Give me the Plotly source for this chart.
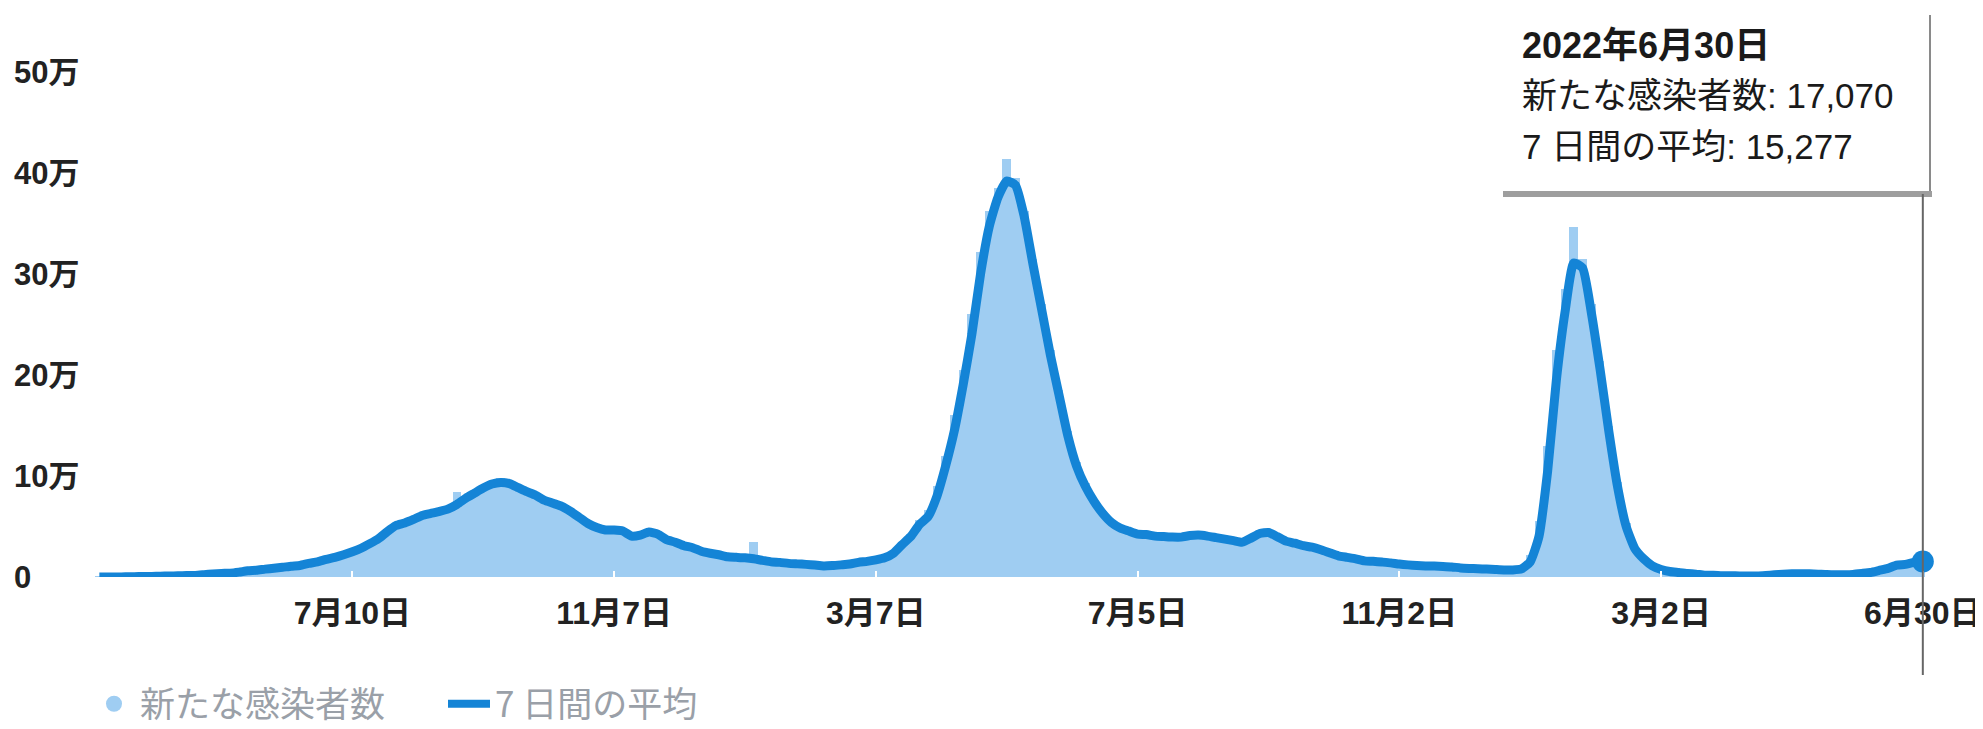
import plotly.graph_objects as go
import pandas as pd

# ---------------- data (India, thousands of cases) ----------------
start_date = "2020-03-16"   # first sample, one sample every 4 days
step_days = 4

daily_k = [
    0.02, 0.05, 0.1, 0.18, 0.35, 0.5, 0.65, 0.85, 1.05, 1.3,
    1.55, 1.8, 2.5, 3.1, 3.6, 4.0, 5.0, 6.3, 6.9, 8.0,
    9.0, 9.9, 11.0, 11.9, 14.0, 15.8, 18.2, 20.3, 23.0, 26.0,
    29.8, 34.5, 40.0, 47.0, 52.0, 54.5, 58.5, 62.0, 64.0, 66.0,
    68.5, 84.0, 79.5, 84.5, 89.5, 93.5, 97.9, 93.0, 89.0, 85.0,
    81.5, 76.5, 73.5, 70.5, 65.5, 59.5, 53.5, 49.5, 47.0, 47.5,
    46.0, 41.0, 42.5, 45.0, 43.0, 37.5, 35.0, 31.5, 29.5, 26.0,
    24.0, 22.5, 20.5, 20.0, 19.5, 35.0, 17.0, 15.5, 15.0, 14.0,
    13.5, 13.0, 12.3, 11.5, 11.8, 12.5, 13.5, 15.2, 16.3, 17.8,
    20.5, 25.5, 35.0, 43.0, 56.0, 66.0, 90.0, 120.0, 160.0, 205.0,
    260.0, 322.0, 362.0, 385.0, 414.0, 395.0, 362.0, 315.0, 270.0, 225.0,
    185.0, 145.0, 114.0, 93.0, 77.0, 65.0, 55.5, 49.5, 46.5, 43.5,
    43.0, 41.5, 41.0, 40.5, 40.5, 42.0, 42.5, 41.5, 40.0, 38.5,
    37.0, 35.5, 42.0, 46.0, 45.0, 41.0, 36.5, 34.5, 32.0, 30.5,
    28.0, 25.0, 22.0, 20.5, 19.0, 17.0, 16.5, 15.5, 14.8, 13.5,
    12.8, 12.2, 11.7, 11.5, 11.2, 10.6, 9.6, 9.0, 8.7, 8.3,
    7.9, 7.5, 7.5, 9.5, 22.0, 55.0, 130.0, 225.0, 285.0, 347.0,
    315.0, 270.0, 214.0, 150.0, 94.0, 53.0, 30.0, 19.5, 12.0, 8.2,
    6.0, 5.0, 3.9, 3.1, 2.0, 1.9, 1.5, 1.3, 1.2, 1.1,
    1.1, 1.8, 2.5, 3.0, 3.4, 3.5, 3.3, 3.0, 2.6, 2.5,
    2.5, 2.8, 3.9, 5.0, 7.0, 9.2, 12.5, 13.2, 15.2, 17.07,
]

avg_k = [
    0.02, 0.04, 0.08, 0.15, 0.3, 0.5, 0.6, 0.8, 1.0, 1.2,
    1.5, 1.6, 2.3, 3.0, 3.5, 3.8, 4.8, 6.1, 6.7, 7.8,
    8.7, 9.6, 10.7, 11.4, 13.5, 15.0, 17.5, 19.5, 22.0, 25.0,
    28.5, 33.0, 38.0, 45.0, 51.0, 53.5, 57.0, 61.0, 63.0, 65.0,
    67.5, 72.0, 78.0, 83.0, 88.0, 92.0, 93.6, 92.5, 88.5, 84.5,
    81.0, 76.0, 73.0, 70.0, 65.0, 59.0, 53.0, 49.0, 46.5, 46.5,
    45.5, 40.5, 41.5, 44.5, 42.5, 37.0, 34.5, 31.0, 29.0, 25.5,
    23.5, 22.0, 20.0, 19.5, 19.0, 18.0, 16.5, 15.0, 14.5, 13.5,
    13.0, 12.5, 11.8, 11.0, 11.3, 12.0, 12.8, 14.5, 15.5, 17.0,
    19.0, 23.5, 32.0, 40.0, 52.0, 60.0, 80.0, 110.0, 145.0, 190.0,
    240.0, 300.0, 347.0, 376.0, 392.0, 388.0, 357.0, 310.0, 265.0, 220.0,
    180.0, 140.0, 110.0, 90.0, 75.0, 63.0, 54.0, 48.5, 45.5, 42.5,
    42.0, 40.5, 40.0, 39.5, 39.5, 41.0, 41.5, 40.5, 39.0, 37.5,
    36.0, 34.5, 38.5, 43.0, 44.0, 40.0, 35.5, 33.5, 31.0, 29.5,
    27.0, 24.0, 21.0, 19.5, 18.0, 16.0, 15.5, 14.8, 14.0, 12.8,
    12.0, 11.5, 11.0, 10.8, 10.5, 10.0, 9.0, 8.5, 8.2, 7.8,
    7.4, 7.0, 7.0, 8.0, 15.0, 40.0, 105.0, 195.0, 263.0, 311.0,
    306.0, 262.0, 206.0, 145.0, 90.0, 50.0, 28.0, 18.0, 11.0, 7.5,
    5.5, 4.5, 3.5, 2.8, 1.8, 1.7, 1.3, 1.2, 1.1, 1.0,
    1.0, 1.5, 2.2, 2.8, 3.2, 3.3, 3.1, 2.8, 2.4, 2.3,
    2.3, 2.6, 3.5, 4.5, 6.5, 8.5, 11.8, 12.5, 14.5, 15.277,
]

tick_dates = ["2020-07-10", "2020-11-07", "2021-03-07", "2021-07-05",
              "2021-11-02", "2022-03-02", "2022-06-30"]
tick_labels = ["7月10日", "11月7日", "3月7日", "7月5日", "11月2日", "3月2日", "6月30日"]

y_tick_vals = [0, 100000, 200000, 300000, 400000, 500000]
y_tick_labels = ["0", "10万", "20万", "30万", "40万", "50万"]

series_names = ["新たな感染者数", "7 日間の平均"]
tooltip_date = "2022年6月30日"

# ---------------- build ----------------
dates = pd.date_range(start_date, periods=len(daily_k), freq=f"{step_days}D")
daily = [v * 1000 for v in daily_k]
avg = [v * 1000 for v in avg_k]

BAR_COLOR = "#9fcdf2"
LINE_COLOR = "#1484d6"
FONT = "Liberation Sans, Noto Sans CJK JP, sans-serif"
CJK = "Noto Sans CJK JP, Liberation Sans, sans-serif"

fig = go.Figure()
fig.add_trace(go.Bar(
    x=dates, y=daily, width=step_days * 86400000,
    marker=dict(color=BAR_COLOR, line=dict(width=0)),
    showlegend=False, hoverinfo="skip"))
fig.add_trace(go.Scatter(
    x=dates, y=avg, mode="lines",
    line=dict(color=LINE_COLOR, width=9, shape="spline", smoothing=0.5),
    showlegend=False, cliponaxis=False, hoverinfo="skip"))
fig.add_trace(go.Scatter(
    x=[dates[-1]], y=[avg[-1]], mode="markers",
    marker=dict(color=LINE_COLOR, size=22),
    showlegend=False, cliponaxis=False, hoverinfo="skip"))
# legend entries
fig.add_trace(go.Scatter(
    x=[None], y=[None], mode="markers", name=series_names[0],
    marker=dict(color=BAR_COLOR, size=24)))
fig.add_trace(go.Scatter(
    x=[None], y=[None], mode="lines", name=series_names[1],
    line=dict(color=LINE_COLOR, width=8)))

# the page body adds an 8px offset; figure is sized so the screen matches
OFF = 8
W, H = 1983 - OFF, 729 - OFF
L, R, T, B = 2, 58, 64, 152
pw = W - L - R
ph = H - T - B


def px_x(screen_x):
    return (screen_x - OFF - L) / pw


def px_y(screen_y):
    return (H - B - (screen_y - OFF)) / ph


fig.update_layout(
    width=W, height=H,
    margin=dict(l=L, r=R, t=T, b=B, pad=0, autoexpand=False),
    paper_bgcolor="white", plot_bgcolor="white",
    bargap=0,
    xaxis=dict(
        domain=[px_x(95), 1],
        range=["2020-03-14", "2022-07-01"],
        tickvals=tick_dates, ticktext=tick_labels,
        ticks="inside", ticklen=6, tickwidth=2, tickcolor="white",
        showgrid=False, zeroline=False, showline=False,
        tickfont=dict(size=32, color="#222222", family=FONT, weight="bold"),
        ticklabelstandoff=14,
    ),
    yaxis=dict(
        anchor="free", position=0,
        range=[0, 500000],
        tickvals=y_tick_vals, ticktext=y_tick_labels,
        ticklabelposition="inside", ticklabeloverflow="allow",
        showgrid=False, zeroline=False, showline=False, ticks="",
        tickfont=dict(size=31, color="#222222", family=FONT, weight="bold"),
    ),
    legend=dict(
        orientation="h", x=px_x(88), y=px_y(704),
        xanchor="left", yanchor="middle",
        font=dict(size=35, color="#9aa0a8", family=CJK),
        itemwidth=42,
        bgcolor="rgba(0,0,0,0)", entrywidth=298, entrywidthmode="pixels",
    ),
)

# tooltip (hover card for the last day)
tip_lines = [
    (tooltip_date, 46, "bold", 36),
    (f"{series_names[0]}: {int(round(daily[-1])):,}", 95, "normal", 35),
    (f"{series_names[1]}: {int(round(avg[-1])):,}", 146, "normal", 35),
]
for text, ypix, wt, fs in tip_lines:
    fig.add_annotation(
        text=text, xref="paper", yref="paper", x=px_x(1520), y=px_y(ypix),
        xanchor="left", yanchor="middle", showarrow=False,
        font=dict(size=fs, color="#1a1a1a", family=FONT, weight=wt))

# card border / shadow and crosshair
fig.add_shape(type="line", xref="paper", yref="paper",
              x0=px_x(1930), x1=px_x(1930), y0=px_y(15), y1=px_y(193),
              line=dict(color="#8a8a8a", width=2))
fig.add_shape(type="line", xref="paper", yref="paper",
              x0=px_x(1503), x1=px_x(1932), y0=px_y(194), y1=px_y(194),
              line=dict(color="#9e9e9e", width=6))
fig.add_shape(type="line", xref="x", yref="paper",
              x0=tick_dates[-1], x1=tick_dates[-1], y0=px_y(194), y1=px_y(675),
              line=dict(color="#666666", width=2))

fig.write_html("out.html")
